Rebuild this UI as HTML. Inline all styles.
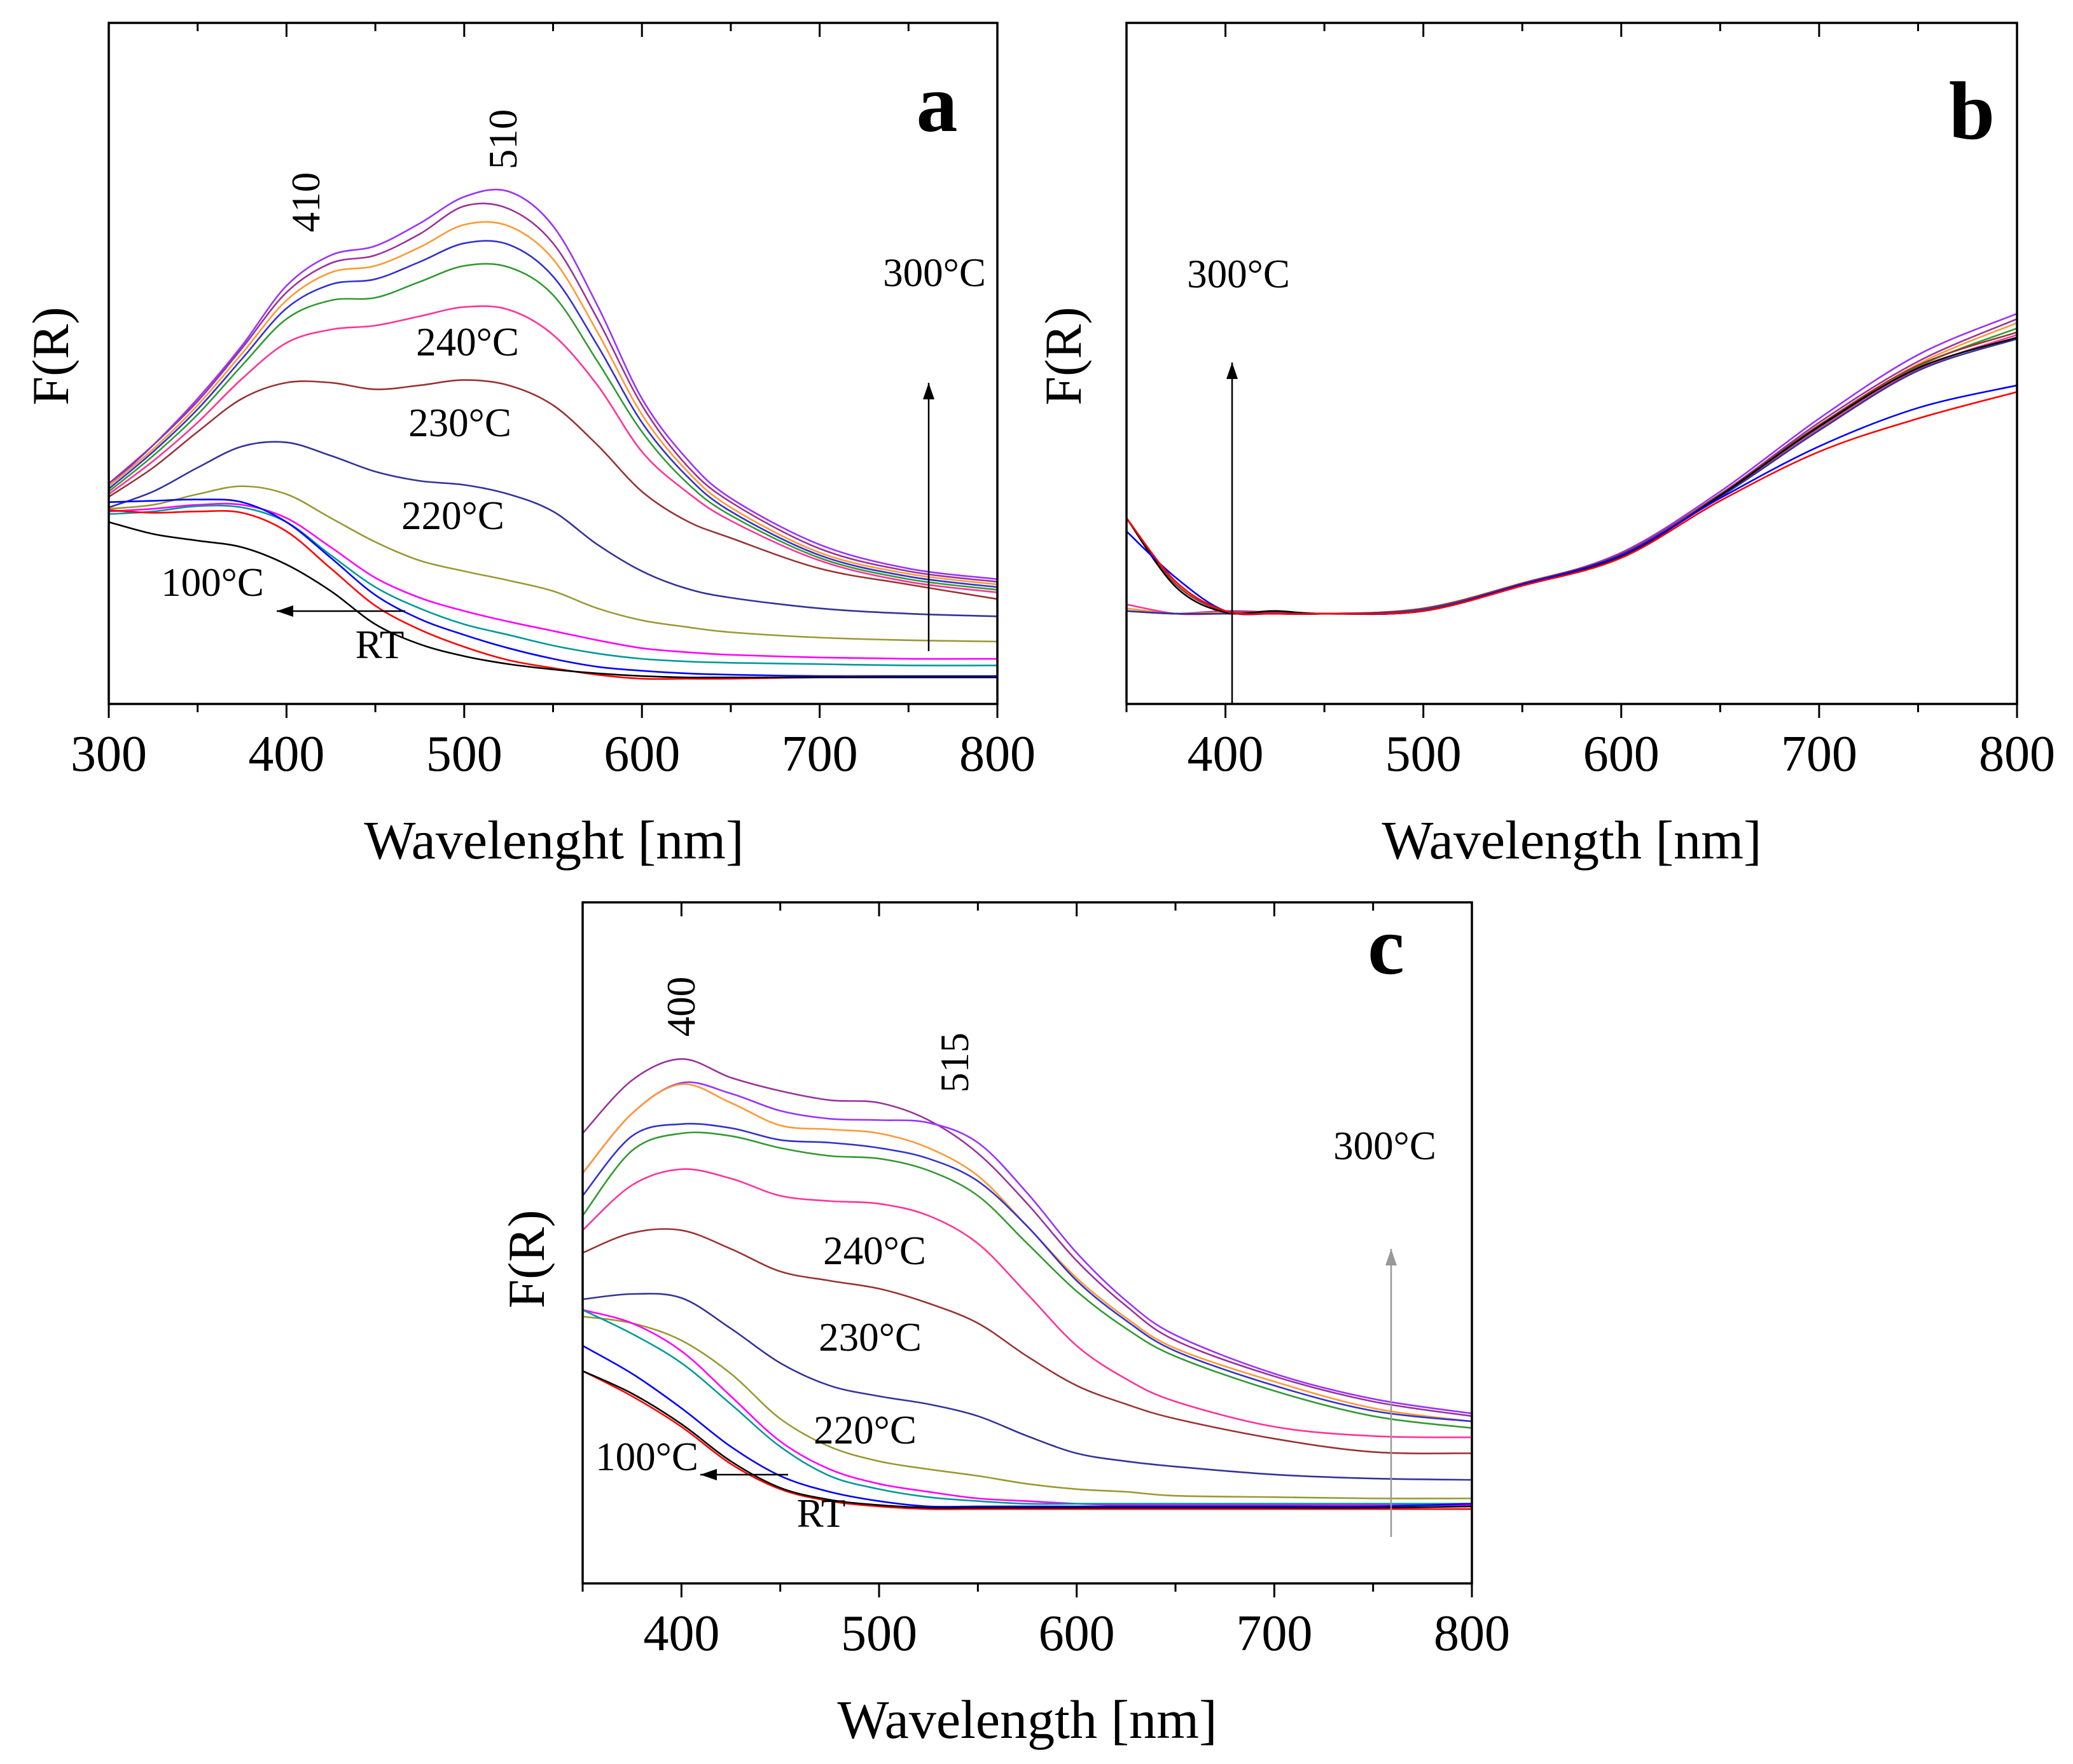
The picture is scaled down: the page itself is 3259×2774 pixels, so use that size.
<!DOCTYPE html>
<html><head><meta charset="utf-8">
<style>
html,body{margin:0;padding:0;background:#fff;}
svg{display:block;}
text{font-family:"Liberation Serif",serif;fill:#000;}
</style></head>
<body>
<svg id="fig" width="3259" height="2774" viewBox="0 0 3259 2774" xmlns="http://www.w3.org/2000/svg"></svg>
<script>
// ---------- data ----------
const waveA = [300,325,350,375,400,425,450,475,500,525,550,575,600,625,650,700,750,800];
const a300 = [164,195,230,270,315,338,345,362,382,386,360,300,230,185,155,120,102,94];
const a290 = [166,195,228,268,310,332,338,354,375,373,347,290,225,180,152,117,100,92];
const a280 = [164,192,225,264,304,325,330,344,361,360,335,280,218,176,148,114,98,90];
const a270 = [162,190,222,260,298,316,320,333,347,346,322,270,212,172,145,112,96,88];
const a250 = [160,187,218,255,290,304,306,318,330,329,308,258,205,167,142,110,94,86];
const a240 = [158,183,212,245,272,282,285,292,299,297,278,240,190,160,138,108,92,84];
const a230 = [156,178,205,230,242,242,237,240,244,240,225,195,160,138,125,102,90,79];
const a220 = [148,160,178,194,197,187,175,168,165,158,145,120,100,87,80,72,68,66];
const a210 = [147,150,158,164,158,140,122,108,100,93,85,72,63,58,54,50,48,47];
const a200 = [145,147,150,150,140,118,95,80,70,62,55,48,42,39,37,35,34,34];
const a150 = [143,145,149,148,137,112,88,72,60,52,44,38,34,32,31,30,29,29];
const a120 = [152,153,154,152,137,110,82,64,52,42,34,28,25,23,22,21,21,21];
const a100 = [146,144,145,144,130,102,74,56,43,33,27,22,19,19,19,20,20,20];
const aRT  = [137,128,123,118,105,85,60,45,36,30,26,23,21,20,20,20,20,20];

const waveB = [350,375,400,425,450,500,550,600,650,700,750,800];
const b1 = [70,68,68,68,68,70,90,114,160,215,263,294];
const b2 = [70,68,70,69,68,70,90,113,158,212,258,290];
const b3 = [72,68,69,68,68,71,90,112,157,210,256,287];
const b4 = [70,68,68,68,68,71,90,112,157,208,254,283];
const b5 = [140,90,70,70,68,72,91,113,158,210,255,280];
const b6 = [75,68,68,68,68,71,90,112,156,207,252,278];
const b7 = [70,68,68,68,68,71,90,112,156,206,251,275];
const b8 = [140,88,69,70,68,70,90,111,157,209,253,276];
const b9 = [130,95,70,68,68,70,90,112,155,194,223,240];
const b10 = [140,92,70,68,68,70,89,110,153,190,215,235];

const waveC = [350,375,400,425,450,475,500,525,550,575,600,625,650,700,750,800];
const c300 = [339,379,395,381,371,364,362,349,324,286,243,209,183,156,137,126];
const c290 = [309,354,377,369,356,350,349,347,332,294,249,213,187,158,139,128];
const c280 = [309,354,376,362,345,342,339,328,307,269,230,200,177,152,132,122];
const c270 = [292,337,346,343,334,332,328,320,303,269,228,198,175,149,130,122];
const c250 = [277,326,339,337,328,322,320,311,292,256,220,192,171,145,126,117];
const c240 = [266,300,312,305,292,288,286,277,256,218,179,154,137,118,111,110];
const c230 = [249,264,266,252,235,228,222,211,196,171,149,135,124,109,99,98];
const c220 = [214,218,215,192,166,149,141,135,126,111,98,92,88,82,79,78];
const c210 = [201,196,183,158,124,103,92,86,81,75,71,69,66,65,64,64];
const c200 = [206,196,175,141,107,86,75,69,64,62,60,59,59,59,59,59];
const c150 = [206,188,166,135,103,81,71,65,62,60,60,60,60,60,60,60];
const c120 = [179,158,132,103,81,69,62,58,58,58,58,58,58,58,58,60];
const c100 = [160,141,118,90,71,62,58,56,56,56,56,56,56,56,56,56];
const cRT  = [160,143,120,92,72,63,59,57,57,57,57,57,57,57,57,58];

const ticksA = [300,400,500,600,700,800];
const ticksBC = [400,500,600,700,800];

// ---------- drawing ----------
const NS = "http://www.w3.org/2000/svg";
const svg = document.getElementById('fig');
function mk(tag, attrs, parent){
  const e = document.createElementNS(NS, tag);
  for (const k in attrs) e.setAttribute(k, attrs[k]);
  (parent||svg).appendChild(e);
  return e;
}
function panel(p){
  const g = mk('g', {});
  
  
  const sx = v => p.x0 + (v - p.xmin) / (p.xmax - p.xmin) * (p.x1 - p.x0);
  const sy = v => p.y1 - v / 513 * (p.y1 - p.y0);
  p.series.forEach(s => {
    const w = s.w;
    const pts = s.v.map((v,i)=>[sx(w[i]), sy(v)]);
    let d = 'M' + pts[0][0] + ',' + pts[0][1];
    for (let i=0;i<pts.length-1;i++){
      const p0 = pts[i-1]||pts[i], p1=pts[i], p2=pts[i+1], p3=pts[i+2]||pts[i+1];
      const c1x = p1[0]+(p2[0]-p0[0])/6, c1y = p1[1]+(p2[1]-p0[1])/6;
      const c2x = p2[0]-(p3[0]-p1[0])/6, c2y = p2[1]-(p3[1]-p1[1])/6;
      d += ' C'+c1x+','+c1y+' '+c2x+','+c2y+' '+p2[0]+','+p2[1];
    }
    const path = mk('path', {d:d, fill:'none', stroke:s.c, 'stroke-width':2.6}, g);
    
    
  });
  const box = mk('rect', {x:p.x0, y:p.y0, width:p.x1-p.x0, height:p.y1-p.y0, fill:'none', stroke:'#000', 'stroke-width':3.5}, g);
  
  
  for (let v = p.xmin; v <= p.xmax; v += 50){
    const major = v % 100 === 0;
    const L = major ? 22 : 13;
    const x = sx(v);
    const tb = mk('line', {x1:x, x2:x, y1:p.y1, y2:p.y1+L, stroke:'#000', 'stroke-width':3}, g);
    
    
    const tt = mk('line', {x1:x, x2:x, y1:p.y0, y2:p.y0+L, stroke:'#000', 'stroke-width':3}, g);
    
    
  }
  p.ticks.forEach(v => {
    const t = mk('text', {x:sx(v), y:p.y1+105, 'font-size':80, 'text-anchor':'middle'}, g);
    t.textContent = v;
    
    
  });
  const xt = mk('text', {x:p.tx, y:p.ty, 'font-size':86, 'text-anchor':'middle'}, g);
  xt.textContent = p.xtitle;
  
  
  const yt = mk('text', {x:0, y:0, 'font-size':82, 'text-anchor':'middle', transform:'translate('+(p.ylx+28)+','+p.yly+') rotate(-90)'}, g);
  yt.textContent = 'F(R)';
  
  
  const lt = mk('text', {x:p.lx, y:p.ly, 'font-size':130, 'font-weight':'bold', 'text-anchor':'middle'}, g);
  lt.textContent = p.letter;
  
  
  p.labels.forEach(L => {
    const attrs = {x:0, y:0, 'font-size':63, 'text-anchor':'middle', transform:'translate('+L[1]+','+(L[2])+')'+(L[3]?' rotate(-90)':'')};
    const t = mk('text', attrs, g);
    t.setAttribute('dy', '0.35em');
    t.textContent = L[0];
    
    
  });
  p.arrows.forEach(A => {
    const ln = mk('line', {x1:A[0], y1:A[1], x2:A[2], y2:A[3], stroke:A[4], 'stroke-width':2.5}, g);
    
    
    const ang = Math.atan2(A[3]-A[1], A[2]-A[0]);
    const hl = 26, hw = 9;
    const bx = A[2]-hl*Math.cos(ang), by = A[3]-hl*Math.sin(ang);
    const px = -Math.sin(ang)*hw, py = Math.cos(ang)*hw;
    const hd = mk('polygon', {points: A[2]+','+A[3]+' '+(bx+px)+','+(by+py)+' '+(bx-px)+','+(by-py), fill:A[4]}, g);
    
    
  });
}
const colsA = ['#9933ff','#993399','#ff9933','#3333cc','#339933','#ff3399','#993333','#333399','#999933','#ff00ff','#009999','#0000ff','#ff0000','#000000'];
const namesT = ['300c','290c','280c','270c','250c','240c','230c','220c','210c','200c','150c','120c','100c','rt'];
const seriesA = [a300,a290,a280,a270,a250,a240,a230,a220,a210,a200,a150,a120,a100,aRT];
const seriesC = [c300,c290,c280,c270,c250,c240,c230,c220,c210,c200,c150,c120,c100,cRT];
const colsC = ['#993399','#9933ff','#ff9933','#3333cc','#339933','#ff3399','#993333','#333399','#999933','#ff00ff','#009999','#0000ff','#ff0000','#000000'];
const seriesB = [b1,b2,b3,b4,b5,b6,b7,b8,b9,b10];
const colsB = ['#9933ff','#993399','#ff9933','#339933','#993333','#ff3399','#333399','#000000','#0000ff','#ff0000'];

panel({name:'panel-a', x0:171, x1:1568, y0:36, y1:1107, xmin:300, xmax:800, ticks:ticksA,
  series: seriesA.map((v,i)=>({v:v, w:waveA, c:colsA[i], n:'series-'+namesT[i]})),
  xtitle:'Wavelenght [nm]', tx:871, ty:1350, ylx:79, yly:560, letter:'a', lx:1473, ly:206,
  labels:[['410',480,318,true],['510',790,219,true],['300°C',1469,428],['240°C',735,537],['230°C',723,664],['220°C',712,810],['100°C',334,915],['RT',597,1013]],
  arrows:[[1460,1024,1460,602,'#000'],[637,961,435,961,'#000']]});

panel({name:'panel-b', x0:1771, x1:3171, y0:36, y1:1107, xmin:350, xmax:800, ticks:ticksBC,
  series: seriesB.map((v,i)=>({v:v, w:waveB, c:colsB[i], n:'series-b-'+(i+1)})),
  xtitle:'Wavelength [nm]', tx:2471, ty:1350, ylx:1671, yly:560, letter:'b', lx:3100, ly:218,
  labels:[['300°C',1947,430]],
  arrows:[[1937,1107,1937,570,'#000']]});

panel({name:'panel-c', x0:916, x1:2314, y0:1419, y1:2490, xmin:350, xmax:800, ticks:ticksBC,
  series: seriesC.map((v,i)=>({v:v, w:waveC, c:colsC[i], n:'series-c-'+namesT[i]})),
  xtitle:'Wavelength [nm]', tx:1615, ty:2733, ylx:827, yly:1980, letter:'c', lx:2179, ly:1531,
  labels:[['400',1070,1583,true],['515',1500,1671,true],['300°C',2177,1801],['240°C',1375,1966],['230°C',1368,2102],['220°C',1360,2248],['100°C',1017,2290],['RT',1291,2379]],
  arrows:[[2187,2417,2187,1964,'#999'],[1239,2319,1101,2319,'#000']]});
</script>
</body></html>
